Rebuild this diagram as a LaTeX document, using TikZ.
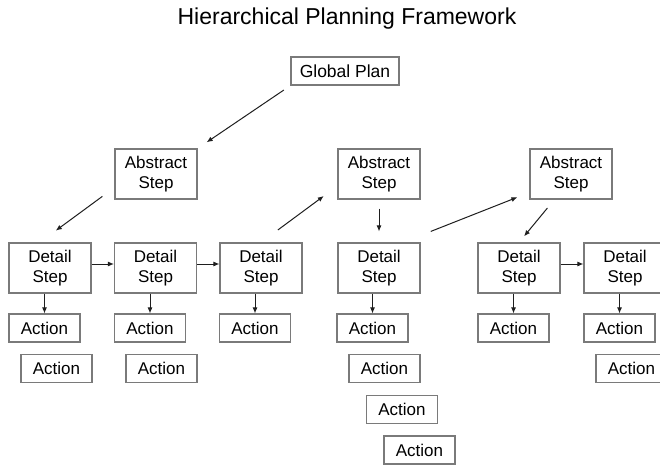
\documentclass[tikz,border=0pt]{standalone}
\usepackage{fontspec}
\setmainfont{Liberation Sans}
\usetikzlibrary{arrows.meta}
\definecolor{boxgray}{HTML}{7A7A7A}
\definecolor{arrowink}{HTML}{1E1E1E}
\begin{document}
\begin{tikzpicture}[x=1pt,y=-1pt,
  box/.style={draw=boxgray,line width=1.1pt,inner sep=0pt,align=center,
              font=\fontsize{17}{20}\selectfont},
  stepbox/.style={box,minimum width=82pt,minimum height=50pt},
  actbox/.style={box,minimum width=71pt,minimum height=28pt},
  arr/.style={draw=arrowink,line width=1pt,-{Latex[length=6pt,width=5pt]}},
]
\clip (0,0) rectangle (660,465);
\fill[white] (0,0) rectangle (660,465);

% title
\node[font=\fontsize{23}{26}\selectfont,anchor=base] (title) at (347,24.5) {Hierarchical Planning Framework};

% top of the hierarchy
\node[box,minimum width=108pt,minimum height=28pt,font=\fontsize{17.5}{21}\selectfont] (gp) at (345,71) {Global Plan};

% abstract steps
\node[stepbox] (ab1) at (156,174) {Abstract\\Step};
\node[stepbox] (ab2) at (379,174) {Abstract\\Step};
\node[stepbox] (ab3) at (571,174) {Abstract\\Step};

% detail steps
\node[stepbox] (dt1) at (50,268)    {Detail\\Step};
\node[stepbox] (dt2) at (155.5,268) {Detail\\Step};
\node[stepbox] (dt3) at (261,268)   {Detail\\Step};
\node[stepbox] (dt4) at (379,268)   {Detail\\Step};
\node[stepbox] (dt5) at (519,268)   {Detail\\Step};
\node[stepbox] (dt6) at (625,268)   {Detail\\Step};

% actions
\node[actbox] (ac1)  at (44.5,328)  {Action};
\node[actbox] (ac2)  at (150,328)   {Action};
\node[actbox] (ac3)  at (255,328)   {Action};
\node[actbox] (ac4)  at (372.5,328) {Action};
\node[actbox] (ac5)  at (513.5,328) {Action};
\node[actbox] (ac6)  at (619.5,328) {Action};
\node[actbox] (ac1b) at (56.5,368.5)  {Action};
\node[actbox] (ac2b) at (161.5,368.5) {Action};
\node[actbox] (ac4b) at (384.5,368.5) {Action};
\node[actbox] (ac6b) at (631.5,368.5) {Action};
\node[actbox] (ac4c) at (402,409.5)   {Action};
\node[actbox] (ac4d) at (419.5,450)   {Action};

% decomposition and hand-over arrows
\draw[arr,shorten <=8pt,shorten >=11pt] (gp.south west) -- (ab1.north east);
\draw[arr,shorten <=15pt,shorten >=20pt] (ab1.198) -- (dt1.112);
\draw[arr,shorten <=21pt,shorten >=17pt] (dt3.north) -- (ab2.196);
\draw[arr,shorten <=9pt,shorten >=11pt] (ab2.south) -- (dt4.north);
\draw[arr,shorten <=30pt,shorten >=13pt] (dt4.47) -- (ab3.204);
\draw[arr,shorten <=11pt,shorten >=8pt] (ab3.237) -- (dt5.north);

% sequence arrows between detail steps
\draw[arr] ([yshift=4pt]dt1.east) -- ([yshift=4pt]dt2.west);
\draw[arr] ([yshift=4pt]dt2.east) -- ([yshift=4pt]dt3.west);
\draw[arr] ([yshift=4pt]dt5.east) -- ([yshift=4pt]dt6.west);

% detail steps to their first action
\foreach \d/\a in {dt1/ac1,dt2/ac2,dt3/ac3,dt4/ac4,dt5/ac5,dt6/ac6}
  \draw[arr] (\a.north |- \d.south) -- (\a.north);
\end{tikzpicture}
\end{document}
